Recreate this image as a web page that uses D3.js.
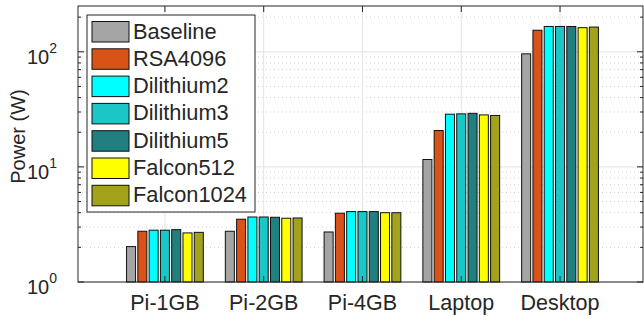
<!DOCTYPE html>
<html><head><meta charset="utf-8">
<script src="https://cdn.jsdelivr.net/npm/d3@7"></script>
<style>body{margin:0;background:#fff}svg{display:block}text{font-family:"Liberation Sans",Arial,sans-serif;fill:#262626}</style>
</head><body>
<svg id="c" width="644" height="318"></svg>
<script>
const categories = ["Pi-1GB","Pi-2GB","Pi-4GB","Laptop","Desktop"];
const seriesNames = ["Baseline","RSA4096","Dilithium2","Dilithium3","Dilithium5","Falcon512","Falcon1024"];
const seriesColors = ["#a5a5a5","#d95319","#00ffff","#1ac6c6","#1f807f","#ffff00","#a2a21c"];
const baseline   = [2.03, 2.76, 2.72, 11.6, 96];
const rsa4096    = [2.76, 3.51, 3.96, 20.7, 154];
const dilithium2 = [2.82, 3.67, 4.09, 28.7, 166];
const dilithium3 = [2.82, 3.67, 4.09, 28.9, 166];
const dilithium5 = [2.85, 3.65, 4.09, 29.2, 166];
const falcon512  = [2.67, 3.58, 4.00, 28.3, 162];
const falcon1024 = [2.70, 3.60, 4.00, 28.0, 164];
const series = [baseline, rsa4096, dilithium2, dilithium3, dilithium5, falcon512, falcon1024];
const yTicks = [1, 10, 100];
const yTickExp = ["0","1","2"];
const yLabel = "Power (W)";

const svg = d3.select("#c");
const L = 78, R = 643, T = 6, B = 282;
const x = d3.scaleLinear().domain([0.12, 5.84]).range([L, R]);
const y = d3.scaleLog().domain([1, 250]).range([B, T]);
const axisCol = "#262626";

// minor grid
const minor = [];
for (let d = 1; d <= 100; d *= 10) for (let k = 2; k <= 9; k++) { const v = d * k; if (v < 250) minor.push(v); }
const g = svg.append("g");
g.selectAll("line.mg").data(minor).enter().append("line")
  .attr("x1", L).attr("x2", R).attr("y1", d => y(d)).attr("y2", d => y(d))
  .attr("stroke", "#d0d0d0").attr("stroke-width", 1).attr("stroke-dasharray", "1,3");
g.selectAll("line.Mg").data(yTicks).enter().append("line")
  .attr("x1", L).attr("x2", R).attr("y1", d => y(d)).attr("y2", d => y(d))
  .attr("stroke", "#e3e3e3").attr("stroke-width", 1);
g.selectAll("line.vg").data(categories).enter().append("line")
  .attr("x1", (d, i) => x(i + 1)).attr("x2", (d, i) => x(i + 1)).attr("y1", T).attr("y2", B)
  .attr("stroke", "#e3e3e3").attr("stroke-width", 1);

// bars
const nS = series.length;
const gw = 0.8, step = gw / nS, bw = step * 0.8;
series.forEach((vals, s) => {
  svg.append("g").selectAll("rect").data(vals).enter().append("rect")
    .attr("x", (d, i) => x(i + 1 - gw / 2 + step * (s + 0.5) - bw / 2))
    .attr("width", x(bw) - x(0))
    .attr("y", d => y(d))
    .attr("height", d => B - y(d))
    .attr("fill", seriesColors[s]).attr("stroke", "#111").attr("stroke-width", 1);
});

// axes
const ax = svg.append("g").attr("stroke", axisCol).attr("fill", "none");
ax.append("rect").attr("x", L).attr("y", T).attr("width", R - L).attr("height", B - T).attr("stroke-width", 1);
categories.forEach((c, i) => {
  const xx = x(i + 1);
  ax.append("line").attr("x1", xx).attr("x2", xx).attr("y1", B).attr("y2", B - 6);
  ax.append("line").attr("x1", xx).attr("x2", xx).attr("y1", T).attr("y2", T + 6);
});
yTicks.forEach(v => {
  ax.append("line").attr("x1", L).attr("x2", L + 6).attr("y1", y(v)).attr("y2", y(v));
  ax.append("line").attr("x1", R).attr("x2", R - 6).attr("y1", y(v)).attr("y2", y(v));
});
minor.forEach(v => {
  ax.append("line").attr("x1", L).attr("x2", L + 3).attr("y1", y(v)).attr("y2", y(v));
  ax.append("line").attr("x1", R).attr("x2", R - 3).attr("y1", y(v)).attr("y2", y(v));
});

// x labels
svg.append("g").selectAll("text").data(categories).enter().append("text")
  .attr("x", (d, i) => x(i + 1)).attr("y", 310).attr("text-anchor", "middle")
  .attr("font-size", 21.5).text(d => d);
// y labels
yTicks.forEach((v, i) => {
  const t = svg.append("text").attr("x", 57).attr("y", y(v) + 12).attr("text-anchor", "end").attr("font-size", 20);
  t.append("tspan").text("10");
  t.append("tspan").attr("dy", -11).attr("font-size", 14).text(yTickExp[i]);
});
svg.append("text").attr("transform", "translate(25,136.5) rotate(-90)").attr("text-anchor", "middle")
  .attr("font-size", 20).text(yLabel);

// legend
const lg = svg.append("g");
lg.append("rect").attr("x", 87).attr("y", 15).attr("width", 168).attr("height", 197)
  .attr("fill", "#fff").attr("stroke", axisCol).attr("stroke-width", 1);
seriesNames.forEach((n, i) => {
  const yy = 21.5 + i * 27.3;
  lg.append("rect").attr("x", 92).attr("y", yy).attr("width", 37).attr("height", 20.5)
    .attr("fill", seriesColors[i]).attr("stroke", "#111").attr("stroke-width", 1);
  lg.append("text").attr("x", 133).attr("y", yy + 17).attr("font-size", 21.8).text(n);
});
</script>
</body></html>
